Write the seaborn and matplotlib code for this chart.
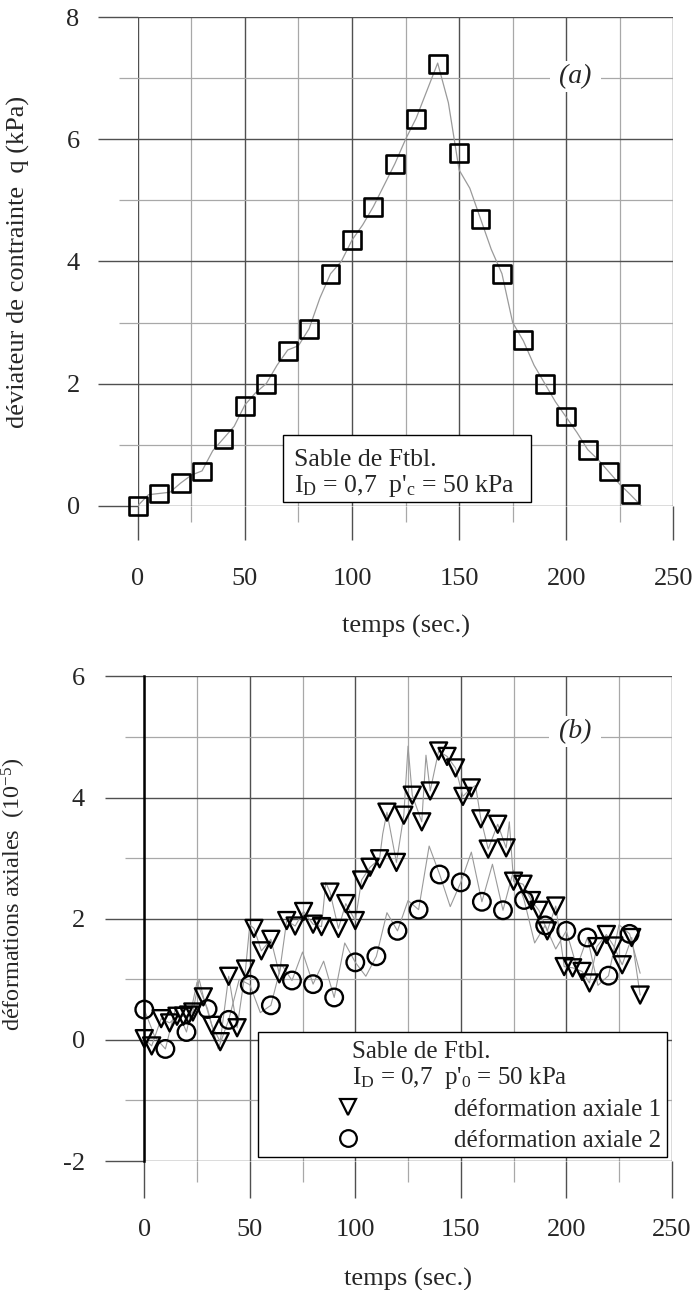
import numpy as np
import matplotlib
matplotlib.use('Agg')
import matplotlib.pyplot as plt
import seaborn as sns
from matplotlib.patches import Rectangle
from matplotlib.lines import Line2D
from matplotlib.ticker import MultipleLocator

# ---- (a) deviator stress vs time ----
square_t = [0, 10, 20, 30, 40, 50, 60, 70, 80, 90, 100, 110, 120, 130, 140,
            150, 160, 170, 180, 190, 200, 210, 220, 230]
square_q = [0.0, 0.2, 0.37, 0.56, 1.09, 1.63, 2.0, 2.54, 2.9, 3.8, 4.35, 4.89,
            5.6, 6.33, 7.24, 5.78, 4.7, 3.8, 2.72, 2.0, 1.46, 0.91, 0.56, 0.19]

curve_t = [0, 5, 10, 15, 20, 25, 30, 35, 40, 45, 50, 55, 60, 65, 70, 75, 80,
           85, 90, 95, 100, 105, 110, 115, 120, 125, 130, 135, 140, 145, 150,
           155, 160, 165, 170, 175, 180, 185, 190, 195, 200, 205, 210, 215,
           220, 225, 230, 235]
curve_q = [0.0, 0.18, 0.2, 0.22, 0.37, 0.5, 0.57, 0.9, 1.1, 1.3, 1.65, 1.85,
           2.0, 2.3, 2.55, 2.62, 2.9, 3.4, 3.8, 4.0, 4.35, 4.6, 4.9, 5.25,
           5.6, 6.0, 6.35, 6.8, 7.25, 6.6, 5.5, 5.2, 4.7, 4.2, 3.8, 3.0, 2.7,
           2.3, 2.0, 1.7, 1.45, 1.2, 0.92, 0.75, 0.55, 0.35, 0.18, 0.0]

# ---- (b) axial strains vs time ----
tri_t = [0, 3.5, 8, 12, 15.5, 18.5, 21, 23, 28, 32, 36, 40, 44, 48, 52, 55.5,
         60, 64, 67.5, 71.5, 75.5, 80, 84, 88, 92, 95.5, 100, 103, 107, 111.5,
         115, 119.5, 123, 127, 131.5, 135.5, 139.5, 143.5, 147.5, 151, 155,
         159.5, 163, 167.5, 171.5, 175, 179.5, 183.5, 187, 191, 195, 199, 203,
         207.5, 211, 214.5, 219, 222.5, 226.5, 231, 235]
tri_v = [0.02, -0.1, 0.35, 0.28, 0.39, 0.39, 0.41, 0.46, 0.71, 0.24, -0.03,
         1.05, 0.2, 1.17, 1.84, 1.47, 1.66, 1.09, 1.97, 1.88, 2.12, 1.91, 1.87,
         2.44, 1.84, 2.25, 1.97, 2.64, 2.85, 2.99, 3.76, 2.93, 3.71, 4.04, 3.6,
         4.11, 4.77, 4.68, 4.49, 4.02, 4.16, 3.65, 3.15, 3.56, 3.17, 2.62, 2.57,
         2.3, 2.14, 1.8, 2.21, 1.21, 1.19, 1.13, 0.94, 1.54, 1.74, 1.55, 1.24,
         1.69, 0.74]

# extra peaks of the raw signal of strain 1 between the markers
spike1_t = [26, 50, 86, 113, 125, 133.5, 157, 173]
spike1_v = [1.0, 1.9, 2.6, 3.4, 4.85, 4.7, 4.2, 3.6]

circ_t = [0, 10, 20, 30, 40, 50, 60, 70, 80, 90, 100, 110, 120, 130, 140, 150,
          160, 170, 180, 190, 200, 210, 220, 230]
circ_v = [0.5, -0.15, 0.13, 0.51, 0.33, 0.91, 0.57, 0.98, 0.92, 0.7, 1.28, 1.38,
          1.8, 2.15, 2.73, 2.6, 2.28, 2.14, 2.31, 1.89, 1.8, 1.69, 1.06, 1.75]

raw2_t = [0, 5, 10, 15, 20, 25, 30, 35, 40, 45, 50, 55, 60, 65, 70, 75, 80, 85,
          90, 95, 100, 105, 110, 115, 120, 125, 130, 135, 140, 145, 150, 155,
          160, 165, 170, 175, 180, 185, 190, 195, 200, 205, 210, 215, 220, 225,
          230, 235]
raw2_v = [0.5, 0.05, -0.15, 0.55, 0.13, 0.95, 0.51, -0.15, 0.33, 1.0, 0.91,
          0.45, 0.57, 1.25, 0.98, 1.45, 0.92, 1.3, 0.7, 1.6, 1.28, 1.05, 1.38,
          2.1, 1.8, 2.3, 2.15, 3.2, 2.73, 2.2, 2.6, 3.1, 2.28, 2.9, 2.14, 2.8,
          2.31, 1.6, 1.89, 1.5, 1.8, 1.2, 1.69, 0.9, 1.06, 1.9, 1.75, 1.1]

sns.set_style('white')
plt.rcParams['font.family'] = ['Liberation Serif', 'DejaVu Serif']
plt.rcParams['mathtext.fontset'] = 'custom'
plt.rcParams['mathtext.rm'] = 'Liberation Serif'
plt.rcParams['mathtext.it'] = 'Liberation Serif:italic'
plt.rcParams['axes.unicode_minus'] = False

MAJ = '#505050'
MIN = '#a8a8a8'
RAW = '#9a9a9a'
FS = 19


def frame(ax, ymin, ymax, xlen, xmlen, ylen, ymlen, xpad, ypad):
    ax.set_xlim(0, 250)
    ax.set_ylim(ymin, ymax)
    ax.xaxis.set_major_locator(MultipleLocator(50))
    ax.xaxis.set_minor_locator(MultipleLocator(25))
    ax.yaxis.set_major_locator(MultipleLocator(2))
    ax.yaxis.set_minor_locator(MultipleLocator(1))
    ax.set_axisbelow(True)
    ax.grid(which='major', color=MAJ, lw=1.0)
    ax.grid(which='minor', color=MIN, lw=0.9)
    for s in ax.spines.values():
        s.set_visible(False)
    ax.tick_params(axis='x', which='major', direction='out', length=xlen,
                   width=1.0, color=MAJ, labelsize=FS, pad=xpad, bottom=True)
    ax.tick_params(axis='x', which='minor', direction='out', length=xmlen,
                   width=0.9, color=MIN, bottom=True)
    ax.tick_params(axis='y', which='major', direction='out', length=ylen,
                   width=1.0, color=MAJ, labelsize=FS, pad=ypad, left=True)
    ax.tick_params(axis='y', which='minor', direction='out', length=ymlen,
                   width=0.9, color=MIN, left=True)


fig = plt.figure(figsize=(6.93, 12.9), dpi=100)
ax1 = fig.add_axes([0.1988, 0.6080, 0.7728, 0.3786])
ax2 = fig.add_axes([0.2082, 0.1000, 0.7612, 0.3756])

# ---------- panel (a) ----------
frame(ax1, 0, 8, 24.7, 11.5, 28.8, 13.5, 20.5, 13)
sns.lineplot(x=curve_t, y=curve_q, ax=ax1, color=RAW, lw=0.9, zorder=2)
sns.scatterplot(x=square_t, y=square_q, ax=ax1, marker='s', s=165,
                facecolor='none', edgecolor='black', linewidth=1.9, zorder=3,
                clip_on=False)
ax1.set_xlabel('temps (sec.)', fontsize=FS)
ax1.set_ylabel('déviateur de contrainte  q (kPa)', fontsize=FS)
ax1.xaxis.set_label_coords(0.5, -0.224)
ax1.yaxis.set_label_coords(-0.201, 0.5)

ax1.add_patch(Rectangle((0.2712, 0.0076), 0.4631, 0.1372, transform=ax1.transAxes,
                        fc='white', ec='black', lw=1.0, zorder=4))
ax1.text(0.2917, 0.0936, 'Sable de Ftbl.', transform=ax1.transAxes,
         fontsize=18.5, va='center', zorder=5)
ax1.text(0.2917, 0.0403, r"I$_\mathrm{D}$ = 0,7  p'$_\mathrm{c}$ = 50 kPa",
         transform=ax1.transAxes, fontsize=18.5, va='center', zorder=5)
ax1.text(0.8174, 0.8784, ' (a) ', transform=ax1.transAxes, fontsize=20,
         style='italic', ha='center', va='center', zorder=4,
         bbox=dict(fc='white', ec='none', pad=2))

# ---------- panel (b) ----------
frame(ax2, -2, 6, 26.6, 15, 27.8, 14, 15.5, 15)
ax2.spines['left'].set_visible(True)
ax2.spines['left'].set_color('black')
ax2.spines['left'].set_linewidth(1.8)

line1_t = tri_t + spike1_t
line1_v = tri_v + spike1_v
order = np.argsort(line1_t)
sns.lineplot(x=np.array(line1_t)[order], y=np.array(line1_v)[order], ax=ax2,
             color=RAW, lw=0.8, zorder=2, sort=False)
sns.lineplot(x=raw2_t, y=raw2_v, ax=ax2, color=RAW, lw=0.8, zorder=2)
sns.scatterplot(x=tri_t, y=tri_v, ax=ax2, marker='v', s=150,
                facecolor='none', edgecolor='black', linewidth=1.7, zorder=3,
                clip_on=False)
sns.scatterplot(x=circ_t, y=circ_v, ax=ax2, marker='o', s=160,
                facecolor='none', edgecolor='black', linewidth=1.7, zorder=3,
                clip_on=False)
ax2.set_xlabel('temps (sec.)', fontsize=FS)
ax2.set_ylabel('déformations axiales  (10$^{-5}$)', fontsize=17.5)
ax2.xaxis.set_label_coords(0.5, -0.221)
ax2.yaxis.set_label_coords(-0.221, 0.55)

ax2.add_patch(Rectangle((0.2152, 0.0076), 0.7763, 0.2593, transform=ax2.transAxes,
                        fc='white', ec='black', lw=1.0, zorder=4))
ax2.text(0.3932, 0.2256, 'Sable de Ftbl.', transform=ax2.transAxes,
         fontsize=18, va='center', zorder=5)
ax2.text(0.3932, 0.1713, r"I$_\mathrm{D}$ = 0,7  p'$_\mathrm{0}$ = 50 kPa",
         transform=ax2.transAxes, fontsize=18, va='center', zorder=5)
handles = [Line2D([], [], marker='v', ls='', mfc='none', mec='black', mew=1.6, ms=11.5),
           Line2D([], [], marker='o', ls='', mfc='none', mec='black', mew=1.6, ms=12)]
leg = ax2.legend(handles, ['déformation axiale 1', 'déformation axiale 2'],
                 loc='upper left', bbox_to_anchor=(0.3388, 0.130), frameon=False,
                 borderpad=0, borderaxespad=0, handlelength=2, handletextpad=3.22,
                 labelspacing=0.34, fontsize=18)
leg.set_zorder(6)
ax2.text(0.8165, 0.886, ' (b) ', transform=ax2.transAxes, fontsize=20,
         style='italic', ha='center', va='center', zorder=4,
         bbox=dict(fc='white', ec='none', pad=2))

fig.savefig('out.png', dpi=100)
